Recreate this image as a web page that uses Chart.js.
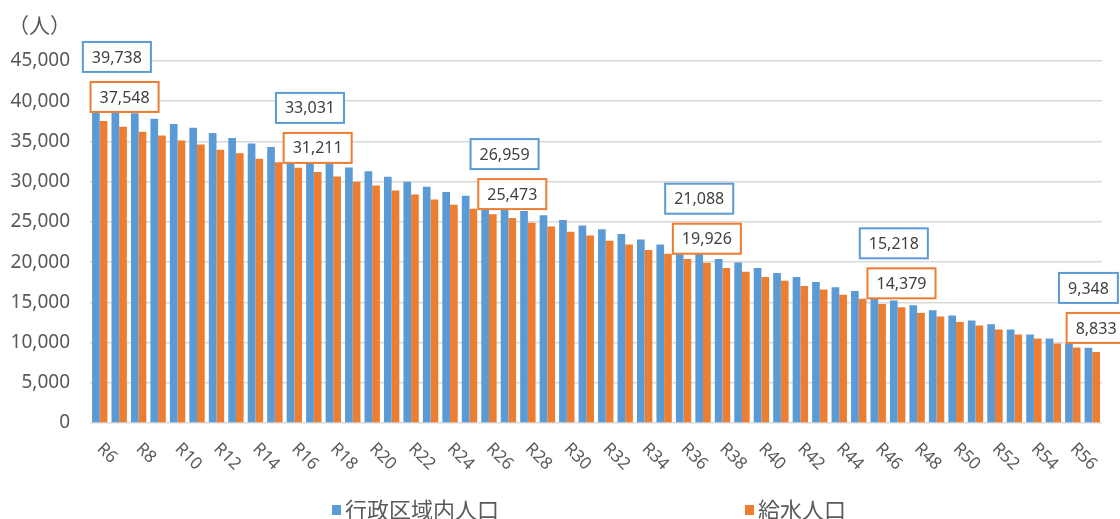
<!DOCTYPE html>
<html lang="ja">
<head>
<meta charset="utf-8">
<title>行政区域内人口と給水人口の推移</title>
<script src="https://cdn.jsdelivr.net/npm/chart.js@4.4.1/dist/chart.umd.min.js"></script>
<style>
  html, body { margin: 0; padding: 0; background: #fff; }
  #wrap { width: 1120px; height: 519px; position: relative; }
</style>
</head>
<body>
<div id="wrap"><canvas id="popChart"></canvas></div>
<script>
// 年度（R6〜R57）
const years = ["R6", "R7", "R8", "R9", "R10", "R11", "R12", "R13", "R14", "R15",
  "R16", "R17", "R18", "R19", "R20", "R21", "R22", "R23", "R24", "R25",
  "R26", "R27", "R28", "R29", "R30", "R31", "R32", "R33", "R34", "R35",
  "R36", "R37", "R38", "R39", "R40", "R41", "R42", "R43", "R44", "R45",
  "R46", "R47", "R48", "R49", "R50", "R51", "R52", "R53", "R54", "R55",
  "R56", "R57"];

// 行政区域内人口（人）
const areaPop = [39738, 39100, 38500, 37820, 37160, 36700, 36040, 35420, 34760, 34300,
  33650, 33031, 32400, 31770, 31310, 30610, 29980, 29360, 28700, 28240,
  27600, 26959, 26350, 25840, 25220, 24560, 24100, 23480, 22820, 22190,
  21600, 21088, 20400, 19950, 19280, 18660, 18160, 17540, 16880, 16420,
  15800, 15218, 14640, 14020, 13360, 12740, 12280, 11620, 11000, 10500,
  9880, 9348];

// 給水人口（人）
const servedPop = [37548, 36830, 36200, 35750, 35130, 34630, 33960, 33520, 32840, 32400,
  31720, 31211, 30650, 29980, 29530, 28900, 28410, 27790, 27120, 26620,
  25960, 25473, 24880, 24430, 23760, 23310, 22640, 22190, 21520, 21030,
  20400, 19926, 19280, 18790, 18160, 17670, 17040, 16590, 15930, 15430,
  14800, 14379, 13690, 13240, 12570, 12120, 11620, 11000, 10500, 9880,
  9380, 8833];

// 数値ラベルを付ける年度の位置
const labeledIdx = [0, 11, 21, 31, 41, 51];

const seriesNames = ["行政区域内人口", "給水人口"];
const BLUE = "#5B9BD5";
const ORANGE = "#ED7D31";
const TXT = "#595959";
const NUM_FONT = "'Noto Sans', 'DejaVu Sans', sans-serif";
const JP_FONT = "'Noto Sans CJK JP', 'Noto Sans', sans-serif";

const fmt = (v) => Number(v).toLocaleString("en-US");

// x軸ラベル（右下がり45°）、単位、凡例、データラベルを描く
const decorations = {
  id: "decorations",
  afterDatasetsDraw(chart) {
    const { ctx, chartArea, scales } = chart;
    const x = scales.x;

    // x軸ラベル（1つおき）
    ctx.save();
    ctx.fillStyle = TXT;
    ctx.font = "17px " + NUM_FONT;
    ctx.textAlign = "left";
    ctx.textBaseline = "middle";
    years.forEach((lab, i) => {
      if (i % 2 !== 0) return;
      ctx.save();
      ctx.translate(x.getPixelForValue(i), chartArea.bottom + 23);
      ctx.rotate(Math.PI / 4);
      ctx.fillText(lab, 0, 0);
      ctx.restore();
    });
    ctx.restore();

    // 単位
    ctx.save();
    ctx.fillStyle = TXT;
    ctx.font = "21px " + JP_FONT;
    ctx.textBaseline = "middle";
    ctx.fillText("（人）", 8, 25);
    ctx.restore();

    // 凡例
    ctx.save();
    ctx.font = "22px " + JP_FONT;
    ctx.textBaseline = "middle";
    [[332, BLUE, seriesNames[0]], [745, ORANGE, seriesNames[1]]].forEach(([lx, col, name]) => {
      ctx.fillStyle = col;
      ctx.fillRect(lx, 505, 9, 10);
      ctx.fillStyle = TXT;
      ctx.fillText(name, lx + 13, 510);
    });
    ctx.restore();

    // データラベル
    const blueMeta = chart.getDatasetMeta(0);
    const orangeMeta = chart.getDatasetMeta(1);
    ctx.save();
    ctx.font = "16px " + NUM_FONT;
    ctx.textAlign = "center";
    ctx.textBaseline = "middle";
    ctx.lineWidth = 2;
    labeledIdx.forEach((i, n) => {
      const ob = orangeMeta.data[i];
      const bb = blueMeta.data[i];
      const oy = ob.y - 24;
      const by = oy - 40;
      const nudge = n === 0 ? 21 : 0;
      [[bb.x + nudge, by, areaPop[i], BLUE], [ob.x + nudge, oy, servedPop[i], ORANGE]].forEach(([cx, cy, v, col]) => {
        const t = fmt(v);
        const w = ctx.measureText(t).width + 18;
        const h = 30;
        ctx.fillStyle = "#fff";
        ctx.fillRect(cx - w / 2, cy - h / 2, w, h);
        ctx.strokeStyle = col;
        ctx.strokeRect(cx - w / 2, cy - h / 2, w, h);
        ctx.fillStyle = "#404040";
        ctx.fillText(t, cx, cy + 1);
      });
    });
    ctx.restore();
  }
};

new Chart(document.getElementById("popChart"), {
  type: "bar",
  data: {
    labels: years,
    datasets: [
      { label: seriesNames[0], data: areaPop, backgroundColor: BLUE, borderWidth: 0 },
      { label: seriesNames[1], data: servedPop, backgroundColor: ORANGE, borderWidth: 0 }
    ]
  },
  options: {
    responsive: true,
    maintainAspectRatio: false,
    animation: false,
    events: [],
    layout: { padding: { top: 61, right: 18, left: 0, bottom: 0 } },
    datasets: { bar: { barPercentage: 1.0, categoryPercentage: 0.79 } },
    plugins: { legend: { display: false }, title: { display: false }, tooltip: { enabled: false } },
    scales: {
      x: {
        grid: { display: false },
        border: { display: false },
        ticks: { display: false },
        afterFit: (s) => { s.height = 96; }
      },
      y: {
        min: 0,
        max: 45000,
        afterFit: (s) => { s.width = 90; },
        border: { display: false },
        grid: { color: "#D9D9D9", lineWidth: 1.5, drawTicks: false },
        ticks: {
          stepSize: 5000,
          padding: 20,
          color: TXT,
          font: { family: NUM_FONT, size: 19 },
          callback: (v) => fmt(v)
        }
      }
    }
  },
  plugins: [decorations]
});
</script>
</body>
</html>
